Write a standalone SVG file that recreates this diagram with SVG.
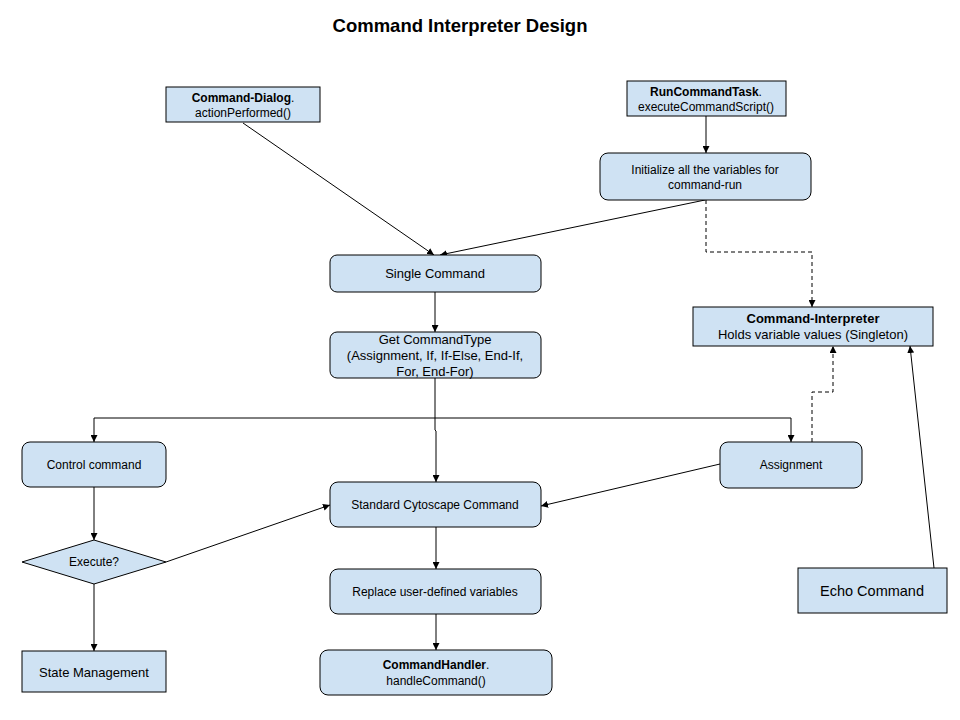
<svg xmlns="http://www.w3.org/2000/svg" width="960" height="720" viewBox="0 0 960 720">
<style>
.n{fill:#cfe2f3;stroke:#000;stroke-width:1}
.t{font-family:"Liberation Sans",Arial,sans-serif;font-size:12px;fill:#000;text-anchor:middle}
.m{font-size:13px}
.b{font-weight:bold}
.c{fill:none;stroke:#000;stroke-width:1}
.d{stroke-dasharray:4,3}
</style>
<defs>
<marker id="a" viewBox="0 0 10 10" refX="10" refY="5" markerWidth="7" markerHeight="7" orient="auto" markerUnits="userSpaceOnUse">
<path d="M0,0 L10,5 L0,10 z" fill="#000"/>
</marker>
</defs>
<rect width="960" height="720" fill="#fff"/>
<text x="460" y="32" style="font-family:'Liberation Sans',Arial,sans-serif;font-size:18.5px;font-weight:bold;text-anchor:middle">Command Interpreter Design</text>
<g id="connectors">
<path class="c" d="M243,123 L434,255" marker-end="url(#a)"/>
<path class="c" d="M705,200 L440,255" marker-end="url(#a)"/>
<path class="c" d="M706,116 L706,153" marker-end="url(#a)"/>
<path class="c d" d="M706,200 L706,252 L812,252 L812,307" marker-end="url(#a)"/>
<path class="c" d="M435,292 L435,332" marker-end="url(#a)"/>
<path class="c" d="M435,378 L435,418"/>
<path class="c" d="M94,418 L791,418"/>
<path class="c" d="M94,418 L94,442" marker-end="url(#a)"/>
<path class="c" d="M791,418 L791,442" marker-end="url(#a)"/>
<path class="c" d="M435,418 L435,430 L436,431 L436,482" marker-end="url(#a)"/>
<path class="c" d="M720,464 L541,506" marker-end="url(#a)"/>
<path class="c d" d="M812,442 L812,392 L833,392 L833,346" marker-end="url(#a)"/>
<path class="c" d="M934,568 L910,346" marker-end="url(#a)"/>
<path class="c" d="M94,487 L94,540" marker-end="url(#a)"/>
<path class="c" d="M166,562 L330,505" marker-end="url(#a)"/>
<path class="c" d="M94,584 L94,651" marker-end="url(#a)"/>
<path class="c" d="M436,527 L436,569" marker-end="url(#a)"/>
<path class="c" d="M436,614 L436,650" marker-end="url(#a)"/>
</g>
<g id="command-dialog">
<rect class="n" x="166" y="87" width="154" height="35"/>
<text class="t" x="243" y="102"><tspan class="b">Command-Dialog</tspan>.</text>
<text class="t" x="243" y="117">actionPerformed()</text>
</g>
<g id="run-command-task">
<rect class="n" x="627" y="81" width="159" height="35"/>
<text class="t" x="706" y="96"><tspan class="b">RunCommandTask</tspan>.</text>
<text class="t" x="706" y="111">executeCommandScript()</text>
</g>
<g id="initialize">
<rect class="n" x="600" y="153" width="211" height="47" rx="8"/>
<text class="t" x="705" y="174">Initialize all the variables for</text>
<text class="t" x="705" y="189">command-run</text>
</g>
<g id="single-command">
<rect class="n" x="330" y="255" width="211" height="37" rx="7"/>
<text class="t m" x="435" y="278">Single Command</text>
</g>
<g id="get-command-type">
<rect class="n" x="330" y="332" width="211" height="46" rx="7"/>
<text class="t m" x="435" y="344">Get CommandType</text>
<text class="t m" x="435" y="360">(Assignment, If, If-Else, End-If,</text>
<text class="t m" x="435" y="376">For, End-For)</text>
</g>
<g id="command-interpreter">
<rect class="n" x="693" y="307" width="240" height="39"/>
<text class="t m b" x="813" y="323">Command-Interpreter</text>
<text class="t m" x="813" y="339">Holds variable values (Singleton)</text>
</g>
<g id="control-command">
<rect class="n" x="22" y="442" width="144" height="45" rx="8"/>
<text class="t" x="94" y="469">Control command</text>
</g>
<g id="assignment">
<rect class="n" x="720" y="442" width="142" height="46" rx="8"/>
<text class="t" x="791" y="469">Assignment</text>
</g>
<g id="standard-cytoscape-command">
<rect class="n" x="330" y="482" width="211" height="45" rx="8"/>
<text class="t" x="435" y="509">Standard Cytoscape Command</text>
</g>
<g id="execute">
<polygon class="n" points="94,540 166,562 94,584 22,562"/>
<text class="t" x="94" y="566">Execute?</text>
</g>
<g id="replace">
<rect class="n" x="330" y="569" width="211" height="45" rx="8"/>
<text class="t" x="435" y="596">Replace user-defined variables</text>
</g>
<g id="command-handler">
<rect class="n" x="320" y="650" width="232" height="45" rx="8"/>
<text class="t" x="436" y="669"><tspan class="b">CommandHandler</tspan>.</text>
<text class="t" x="436" y="685">handleCommand()</text>
</g>
<g id="state-management">
<rect class="n" x="22" y="651" width="144" height="41"/>
<text class="t m" x="94" y="677">State Management</text>
</g>
<g id="echo-command">
<rect class="n" x="798" y="568" width="149" height="45"/>
<text class="t" x="872" y="596" style="font-size:14.5px">Echo Command</text>
</g>
</svg>
